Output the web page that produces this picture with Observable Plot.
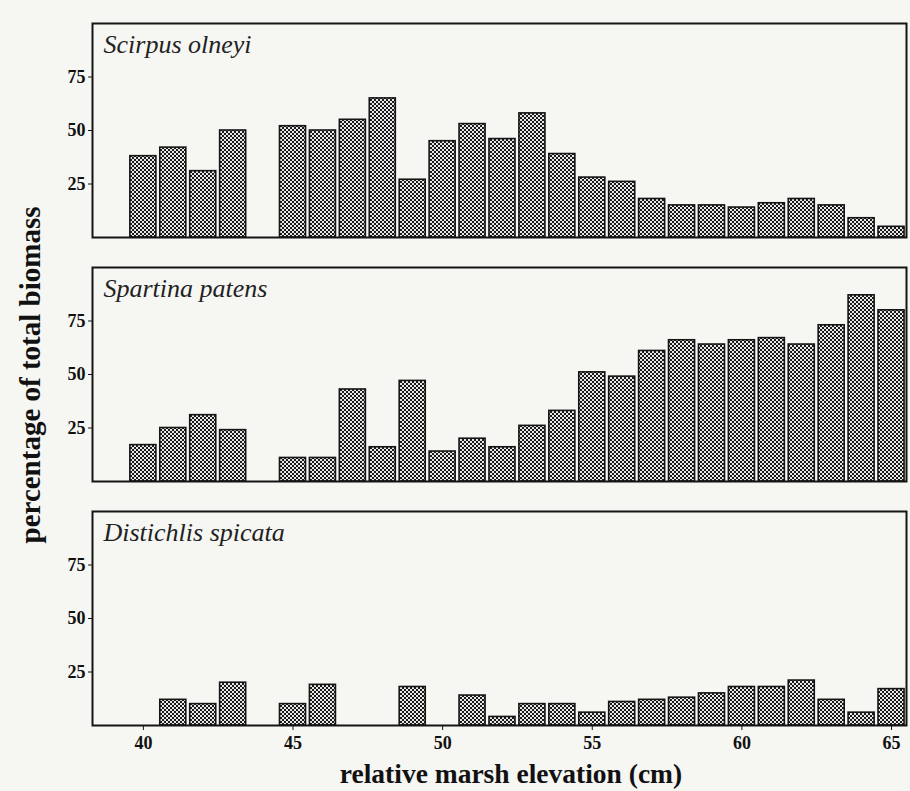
<!DOCTYPE html>
<html>
<head>
<meta charset="utf-8">
<script src="https://cdn.jsdelivr.net/npm/d3@7"></script>
<script src="https://cdn.jsdelivr.net/npm/@observablehq/plot@0.6"></script>
<style>
  html, body { margin: 0; padding: 0; background: #f6f6f3; }
  #chart svg { display: block; background: #f6f6f3; }
</style>
</head>
<body>
<div id="chart"></div>
<script>
// --- data ---
const species = ["Scirpus olneyi", "Spartina patens", "Distichlis spicata"];
const elevations = [40, 41, 42, 43, 44, 45, 46, 47, 48, 49, 50, 51, 52, 53, 54, 55, 56, 57, 58, 59, 60, 61, 62, 63, 64, 65];
const scirpus    = [38, 42, 31, 50, null, 52, 50, 55, 65, 27, 45, 53, 46, 58, 39, 28, 26, 18, 15, 15, 14, 16, 18, 15, 9, 5];
const spartina   = [17, 25, 31, 24, null, 11, 11, 43, 16, 47, 14, 20, 16, 26, 33, 51, 49, 61, 66, 64, 66, 67, 64, 73, 87, 80];
const distichlis = [null, 12, 10, 20, null, 10, 19, null, null, 18, null, 14, 4, 10, 10, 6, 11, 12, 13, 15, 18, 18, 21, 12, 6, 17];
const yTicks = [25, 50, 75];
const xTicks = [40, 45, 50, 55, 60, 65];
const yLabel = "percentage of total biomass";
const xLabel = "relative marsh elevation (cm)";

const seriesValues = [scirpus, spartina, distichlis];
const data = [];
species.forEach((s, i) => {
  elevations.forEach((e, j) => {
    const v = seriesValues[i][j];
    if (v != null) data.push({species: s, elevation: e, value: v});
  });
});

const W = 910, H = 791;
const chart = Plot.plot({
  width: W,
  height: H,
  marginLeft: 92,
  marginRight: 4,
  marginTop: 22,
  marginBottom: 64,
  style: {fontFamily: "'Liberation Serif', 'DejaVu Serif', serif", background: "#f6f6f3", color: "#111"},
  x: {domain: [38.3, 65.5]},
  y: {domain: [0, 100]},
  fy: {domain: species, paddingInner: 0.122, paddingOuter: 0, axis: null, label: null},
  marks: [
    Plot.rectY(data, {
      x1: d => d.elevation - 0.435,
      x2: d => d.elevation + 0.435,
      y1: 0,
      y2: "value",
      fy: "species",
      fill: "url(#mesh)",
      stroke: "#151515",
      strokeWidth: 1.6
    }),
    Plot.frame({stroke: "#151515", strokeWidth: 2}),
    Plot.axisY({ticks: yTicks, tickSize: 4, tickPadding: 3, label: null, fontSize: 18, fontWeight: "bold", stroke: "#151515"}),
    Plot.axisX({ticks: xTicks, tickSize: 5, tickPadding: 6, label: null, fontSize: 18, fontWeight: "bold", stroke: "#151515"}),
    Plot.text(species, {
      fy: d => d,
      text: d => d,
      frameAnchor: "top-left",
      lineAnchor: "top",
      dx: 11,
      dy: 11,
      fontStyle: "italic",
      fontWeight: "normal",
      fontSize: 26,
      fill: "#222"
    })
  ]
});

document.getElementById("chart").appendChild(chart);

const svg = d3.select(chart);
const defs = svg.insert("defs", ":first-child");
const pat = defs.append("pattern")
  .attr("id", "mesh")
  .attr("patternUnits", "userSpaceOnUse")
  .attr("width", 4)
  .attr("height", 4);
pat.append("rect").attr("width", 4).attr("height", 4).attr("fill", "#e8e8e8");
pat.append("rect").attr("x", 0).attr("y", 0).attr("width", 2).attr("height", 2).attr("fill", "#1a1a1a");
pat.append("rect").attr("x", 2).attr("y", 2).attr("width", 2).attr("height", 2).attr("fill", "#1a1a1a");

svg.append("text")
  .attr("transform", "translate(40,375) rotate(-90)")
  .attr("text-anchor", "middle")
  .attr("font-size", 29)
  .attr("font-weight", "bold")
  .attr("fill", "#111")
  .text(yLabel);

svg.append("text")
  .attr("x", 511)
  .attr("y", 783)
  .attr("text-anchor", "middle")
  .attr("font-size", 27.5)
  .attr("font-weight", "bold")
  .attr("fill", "#111")
  .text(xLabel);
</script>
</body>
</html>
